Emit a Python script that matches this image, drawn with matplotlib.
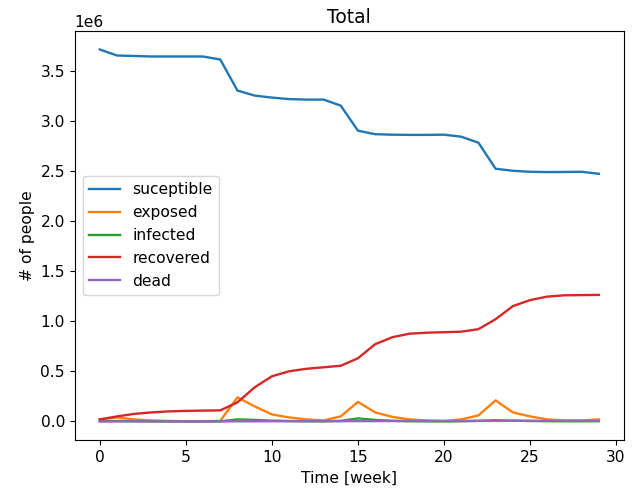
import matplotlib.pyplot as plt

weeks = list(range(30))
suceptible = [3.71, 3.65, 3.645, 3.64, 3.64, 3.64, 3.64, 3.61, 3.30, 3.25,
              3.23, 3.215, 3.21, 3.21, 3.15, 2.90, 2.865, 2.86, 2.858, 2.858,
              2.86, 2.84, 2.78, 2.52, 2.50, 2.49, 2.487, 2.488, 2.49, 2.47]
exposed = [0.02, 0.04, 0.02, 0.01, 0.005, 0.002, 0.002, 0.005, 0.24, 0.15,
           0.07, 0.04, 0.02, 0.01, 0.05, 0.195, 0.09, 0.045, 0.02, 0.01,
           0.005, 0.02, 0.06, 0.21, 0.09, 0.05, 0.02, 0.01, 0.01, 0.02]
infected = [0.002, 0.005, 0.003, 0.001, 0.0, 0.0, 0.0, 0.001, 0.02, 0.015,
            0.008, 0.004, 0.002, 0.001, 0.006, 0.03, 0.015, 0.006, 0.002, 0.001,
            0.0, 0.002, 0.006, 0.012, 0.008, 0.004, 0.002, 0.001, 0.001, 0.002]
recovered = [0.02, 0.05, 0.075, 0.09, 0.10, 0.105, 0.108, 0.11, 0.19, 0.34,
             0.45, 0.50, 0.525, 0.54, 0.555, 0.63, 0.77, 0.84, 0.875, 0.885,
             0.89, 0.895, 0.92, 1.02, 1.15, 1.21, 1.245, 1.258, 1.26, 1.262]
dead = [0.0, 0.0, 0.0, 0.0, 0.0, 0.0, 0.0, 0.0, 0.001, 0.001,
        0.002, 0.002, 0.002, 0.002, 0.002, 0.003, 0.003, 0.004, 0.004, 0.004,
        0.004, 0.004, 0.005, 0.005, 0.006, 0.006, 0.006, 0.006, 0.006, 0.006]

series = {'suceptible': suceptible, 'exposed': exposed, 'infected': infected,
          'recovered': recovered, 'dead': dead}

plt.rcParams['font.size'] = 11.2
plt.rcParams['lines.linewidth'] = 1.7

fig, ax = plt.subplots(figsize=(6.34, 4.9), dpi=100)
fig.subplots_adjust(left=0.118, right=0.984, top=0.937, bottom=0.102)
for name, vals in series.items():
    ax.plot(weeks, [v * 1e6 for v in vals], label=name)
ax.set_title('Total')
ax.set_xlabel('Time [week]')
ax.set_ylabel('# of people')
ax.legend(loc='center left')
fig.savefig('out.png')
